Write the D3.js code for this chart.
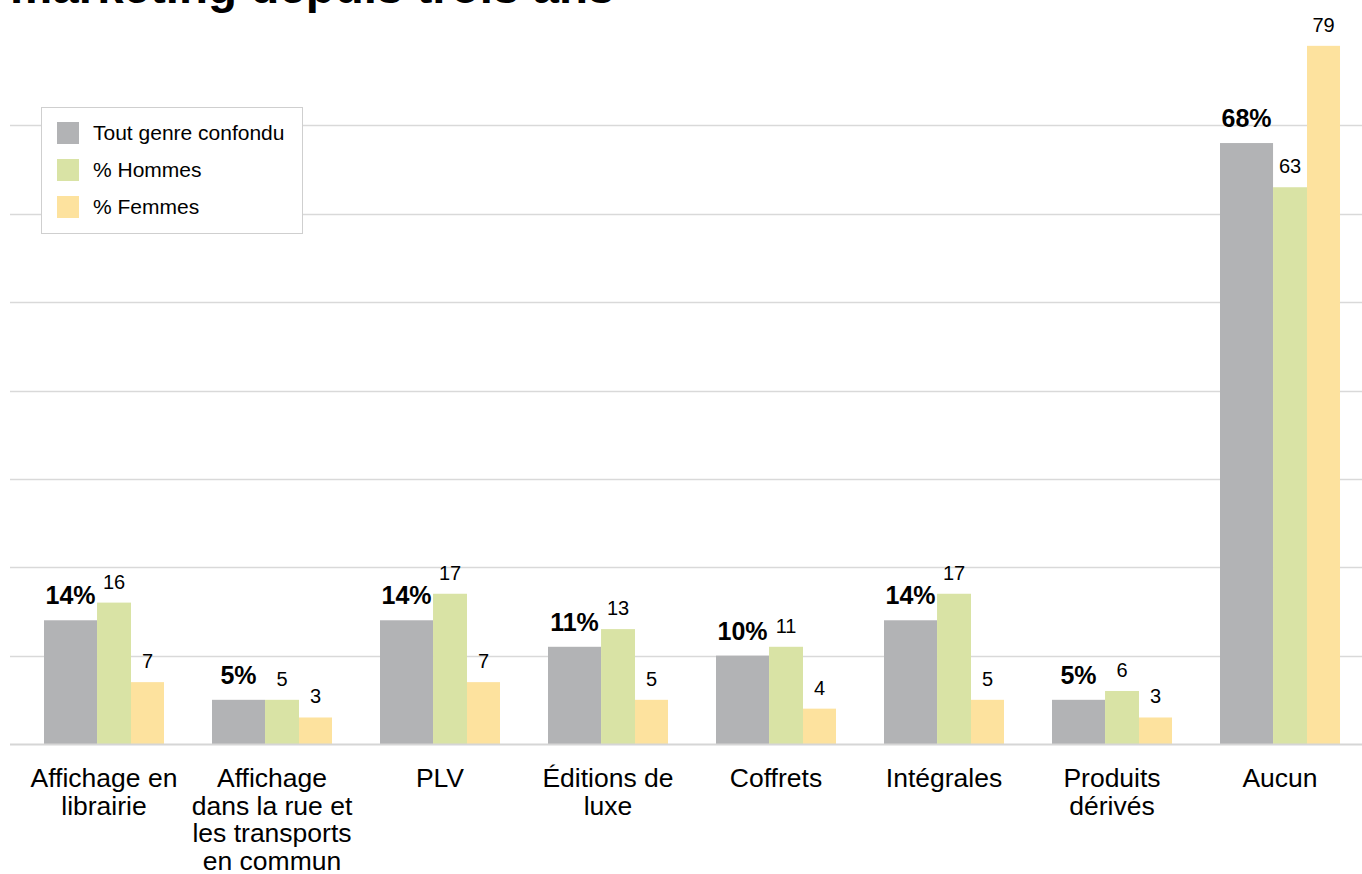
<!DOCTYPE html>
<html>
<head>
<meta charset="utf-8">
<script src="https://cdn.jsdelivr.net/npm/d3@7"></script>
<style>
  html, body { margin: 0; padding: 0; background: #fff; }
  svg { display: block; font-family: "Liberation Sans", Arial, Helvetica, sans-serif; }
</style>
</head>
<body>
<svg id="chart" width="1362" height="874"></svg>
<script>
const categories = ["Affichage en librairie", "Affichage dans la rue et les transports en commun", "PLV", "Éditions de luxe", "Coffrets", "Intégrales", "Produits dérivés", "Aucun"];
const categoryLines = [["Affichage en", "librairie"], ["Affichage", "dans la rue et", "les transports", "en commun"], ["PLV"], ["Éditions de", "luxe"], ["Coffrets"], ["Intégrales"], ["Produits", "dérivés"], ["Aucun"]];
const seriesNames = ["Tout genre confondu", "% Hommes", "% Femmes"];
const toutGenre = [14, 5, 14, 11, 10, 14, 5, 68];
const hommes = [16, 5, 17, 13, 11, 17, 6, 63];
const femmes = [7, 3, 7, 5, 4, 5, 3, 79];
const gridTicks = [10, 20, 30, 40, 50, 60, 70];
const titleText = "marketing depuis trois ans";

const colors = ["#b2b3b5", "#d9e3a5", "#fde29e"];
const seriesValues = [toutGenre, hommes, femmes];
// fractional spans of each series within a category group (gray bar is wider)
const spans = [[0, 0.442], [0.442, 0.725], [0.725, 1]];

const svg = d3.select("#chart");

const x0 = d3.scaleBand().domain(categories).range([20, 1364]).paddingInner(0.2857).paddingOuter(0.1428);
const xIn = d3.scaleLinear().domain([0, 1]).range([0, x0.bandwidth()]);
const y = d3.scaleLinear().domain([0, 80]).range([744, 37]);

// title (only the bottom of its last line is visible at the top)
svg.append("text")
  .attr("x", 10).attr("y", 3)
  .attr("font-size", 47.5).attr("font-weight", "bold").attr("fill", "#000")
  .text(titleText);

// gridlines
svg.append("g").selectAll("line").data(gridTicks).join("line")
  .attr("x1", 10).attr("x2", 1362)
  .attr("y1", d => Math.round(y(d)) + 0.5).attr("y2", d => Math.round(y(d)) + 0.5)
  .attr("stroke", "#d9d9d9").attr("stroke-width", 1.3);

// bars
seriesValues.forEach((vals, si) => {
  const g = svg.append("g");
  g.selectAll("rect").data(categories).join("rect")
    .attr("x", c => x0(c) + xIn(spans[si][0]))
    .attr("width", c => xIn(spans[si][1]) - xIn(spans[si][0]))
    .attr("y", (c, i) => y(vals[i]))
    .attr("height", (c, i) => y(0) - y(vals[i]))
    .attr("fill", colors[si]);
});

// baseline
svg.append("line")
  .attr("x1", 10).attr("x2", 1362)
  .attr("y1", y(0) + 0.5).attr("y2", y(0) + 0.5)
  .attr("stroke", "#d6d6d6").attr("stroke-width", 2);

// value labels
seriesValues.forEach((vals, si) => {
  svg.append("g").selectAll("text").data(categories).join("text")
    .attr("x", c => x0(c) + xIn((spans[si][0] + spans[si][1]) / 2))
    .attr("y", (c, i) => y(vals[i]) - (si === 0 ? 16 : 14))
    .attr("text-anchor", "middle")
    .attr("font-size", si === 0 ? 25 : 20)
    .attr("font-weight", si === 0 ? "bold" : "normal")
    .attr("fill", "#000")
    .text((c, i) => si === 0 ? vals[i] + "%" : vals[i]);
});

// category labels
const xl = svg.append("g");
categories.forEach((c, i) => {
  const cx = x0(c) + x0.bandwidth() / 2;
  const t = xl.append("text")
    .attr("x", cx)
    .attr("y", 787)
    .attr("text-anchor", "middle")
    .attr("font-size", 26.5)
    .attr("fill", "#000");
  categoryLines[i].forEach((ln, j) => {
    t.append("tspan").attr("x", cx).attr("dy", j === 0 ? 0 : 27.5).text(ln);
  });
});

// legend
const lg = svg.append("g");
lg.append("rect").attr("x", 41.5).attr("y", 107.5).attr("width", 261).attr("height", 126)
  .attr("fill", "#fff").attr("stroke", "#cfcfcf").attr("stroke-width", 1);
seriesNames.forEach((n, i) => {
  lg.append("rect").attr("x", 57).attr("y", 122 + i * 37).attr("width", 22).attr("height", 22).attr("fill", colors[i]);
  lg.append("text").attr("x", 93).attr("y", 140 + i * 37).attr("font-size", 21).attr("fill", "#000").text(n);
});
</script>
</body>
</html>
